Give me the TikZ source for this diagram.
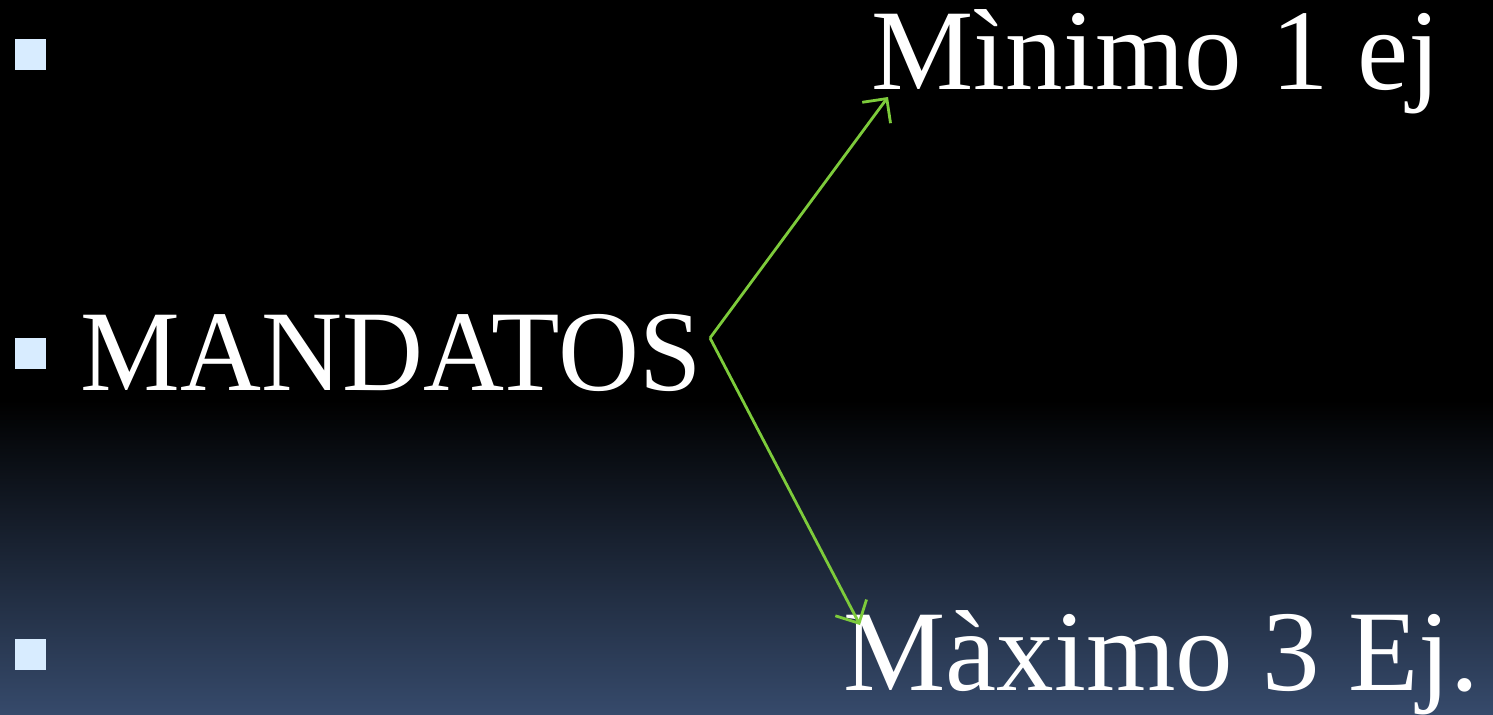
\documentclass[tikz,border=0pt]{standalone}
\usepackage{fontspec}
\setmainfont{Liberation Serif}
\usetikzlibrary{arrows.meta,positioning,calc}
\definecolor{slideTop}{HTML}{000000}
\definecolor{slideBottom}{HTML}{364A6B}
\definecolor{bulletFill}{HTML}{D8ECFF}
\definecolor{arrowGreen}{HTML}{7DCB3B}

\begin{document}
\begin{tikzpicture}[
    x=0.01cm, y=-0.01cm,
    bullet/.style={
        rectangle, fill=bulletFill,
        minimum size=0.31cm, inner sep=0pt,
        anchor=north west
    },
    bigText/.style={
        text=white, inner sep=0pt, anchor=base west,
        font=\fontsize{32.7}{39}\selectfont
    },
    branch/.style={->, draw=arrowGreen, line width=0.8pt,
        >={Straight Barb[length=5pt,width=10pt]}}
]

% Slide background: black on top, fading to slate blue at the bottom.
\fill[slideTop] (0,0) rectangle (1493,400);
\shade[top color=slideTop, bottom color=slideBottom] (0,400) rectangle (1493,715);
\useasboundingbox (0,0) rectangle (1493,715);

\node[bullet] (BulletTop) at (14,38) {};
\node[bullet] (BulletMid) at (14,337) {};
\node[bullet] (BulletLow) at (14,638) {};

\node[bigText] (Mandatos) at (80,390) {\scalebox{0.975}[1]{MANDATOS}};
\node[bigText] (Minimo) at (871,90) {Mìnimo 1 ej};
\node[bigText] (Maximo) at (843,690) {Màximo 3 Ej.};

\coordinate (Fork) at (710,338);
\coordinate (MinimoTip) at (888,97);
\coordinate (MaximoTip) at (860,625);

\draw[branch] (Fork) -- (MinimoTip);
\draw[branch] (Fork) -- (MaximoTip);

\end{tikzpicture}
\end{document}
